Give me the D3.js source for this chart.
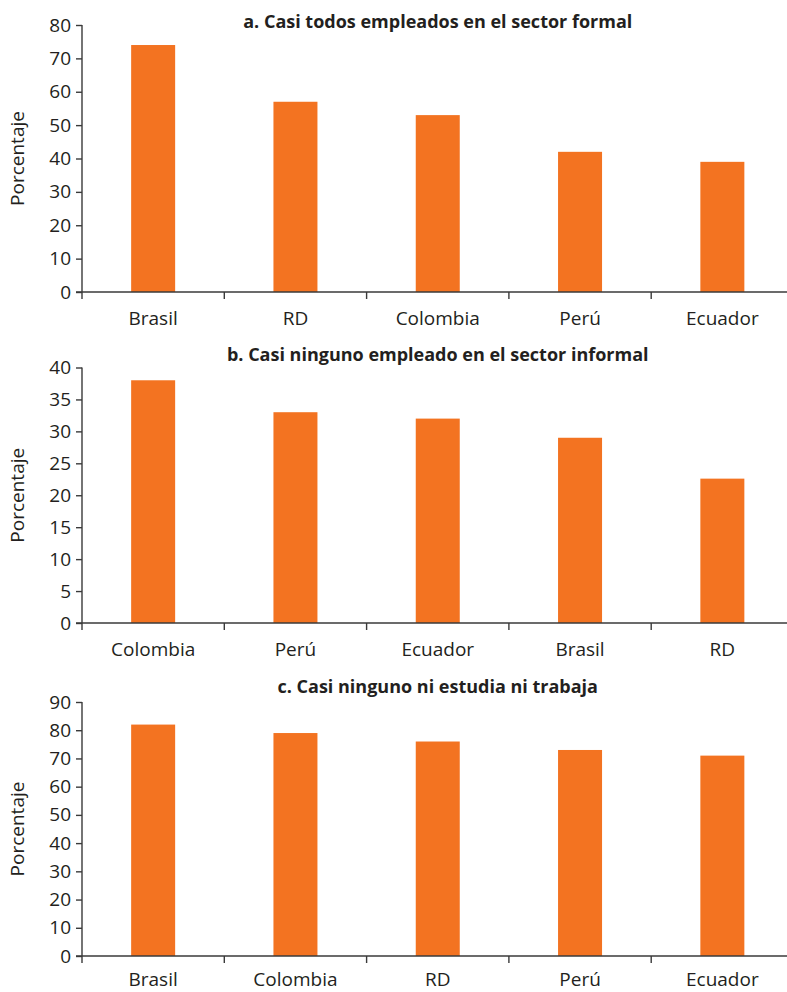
<!DOCTYPE html>
<html>
<head>
<meta charset="utf-8">
<script src="https://cdn.jsdelivr.net/npm/d3@7"></script>
<style>
  html, body { margin: 0; padding: 0; background: #fff; }
  svg { display: block; }
  text { font-family: "Open Sans", "Noto Sans", sans-serif; fill: #231f20; }
</style>
</head>
<body>
<svg id="chart" width="787" height="992"></svg>
<script>
// ---- Data ----
const titleA = "a. Casi todos empleados en el sector formal";
const categoriesA = ["Brasil", "RD", "Colombia", "Perú", "Ecuador"];
const valuesA = [74, 57, 53, 42, 39];
const ticksA = [0, 10, 20, 30, 40, 50, 60, 70, 80];

const titleB = "b. Casi ninguno empleado en el sector informal";
const categoriesB = ["Colombia", "Perú", "Ecuador", "Brasil", "RD"];
const valuesB = [38, 33, 32, 29, 22.6];
const ticksB = [0, 5, 10, 15, 20, 25, 30, 35, 40];

const titleC = "c. Casi ninguno ni estudia ni trabaja";
const categoriesC = ["Brasil", "Colombia", "RD", "Perú", "Ecuador"];
const valuesC = [82, 79, 76, 73, 71];
const ticksC = [0, 10, 20, 30, 40, 50, 60, 70, 80, 90];

const yLabel = "Porcentaje";

// ---- Layout ----
const svg = d3.select("#chart");
const barColor = "#f37321";
const axisColor = "#3a3a3a";
const xLeft = 82, xRight = 793.5;

const panels = [
  { title: titleA, cats: categoriesA, vals: valuesA, ticks: ticksA, top: 25, bottom: 292, titleY: 28, labelY: 33 },
  { title: titleB, cats: categoriesB, vals: valuesB, ticks: ticksB, top: 367.5, bottom: 623, titleY: 361, labelY: 33 },
  { title: titleC, cats: categoriesC, vals: valuesC, ticks: ticksC, top: 702, bottom: 956, titleY: 693, labelY: 30 }
];

panels.forEach(p => {
  const g = svg.append("g");
  const maxTick = p.ticks[p.ticks.length - 1];
  const y = d3.scaleLinear().domain([0, maxTick]).range([p.bottom, p.top]);
  const xBand = d3.scaleBand().domain(p.cats).range([xLeft, xRight]).paddingInner(0).paddingOuter(0);
  const bandW = xBand.bandwidth();
  const barFrac = 44 / bandW;
  const xBar = d3.scaleBand().domain(p.cats).range([xLeft, xRight])
    .paddingInner(1 - barFrac).paddingOuter((1 - barFrac) / 2);

  // bars
  g.selectAll("rect.bar").data(p.vals).join("rect")
    .attr("class", "bar")
    .attr("x", (d, i) => xBar(p.cats[i]))
    .attr("width", xBar.bandwidth())
    .attr("y", d => y(d))
    .attr("height", d => y(0) - y(d))
    .attr("fill", barColor);

  // y axis
  const yAxis = d3.axisLeft(y).tickValues(p.ticks).tickSize(6).tickPadding(5);
  const ya = g.append("g").attr("transform", `translate(${xLeft},0)`).call(yAxis);
  ya.select(".domain").attr("d", `M0,${p.top}V${p.bottom}`).attr("stroke", axisColor).attr("stroke-width", 1.4);
  ya.selectAll(".tick line").attr("stroke", axisColor).attr("stroke-width", 1.4);
  ya.selectAll(".tick text").attr("font-size", 19).attr("font-family", "Open Sans").attr("fill", "#231f20");

  // x axis: labels centered, ticks at band boundaries
  const xAxis = d3.axisBottom(xBand).tickSize(0).tickPadding(0);
  const xa = g.append("g").attr("transform", `translate(0,${p.bottom})`).call(xAxis);
  xa.select(".domain").remove();
  xa.selectAll(".tick text").attr("font-size", 19).attr("font-family", "Open Sans")
    .attr("fill", "#231f20").attr("dy", 0).attr("y", p.labelY);
  g.append("line").attr("x1", xLeft - 6).attr("x2", xRight).attr("y1", p.bottom).attr("y2", p.bottom)
    .attr("stroke", axisColor).attr("stroke-width", 1.4);
  const bounds = p.cats.map(c => xBand(c)).concat([xBand(p.cats[p.cats.length - 1]) + bandW]);
  g.selectAll("line.xt").data(bounds).join("line").attr("class", "xt")
    .attr("x1", d => d).attr("x2", d => d).attr("y1", p.bottom).attr("y2", p.bottom + 7)
    .attr("stroke", axisColor).attr("stroke-width", 1.4);

  // y label
  g.append("text").attr("transform", `translate(24,${(p.top + p.bottom) / 2}) rotate(-90)`)
    .attr("text-anchor", "middle").attr("font-size", 19).text(yLabel);

  // title
  g.append("text").attr("x", (xLeft + xRight) / 2).attr("y", p.titleY)
    .attr("text-anchor", "middle").attr("font-size", 18).attr("font-weight", "bold").text(p.title);
});
</script>
</body>
</html>
